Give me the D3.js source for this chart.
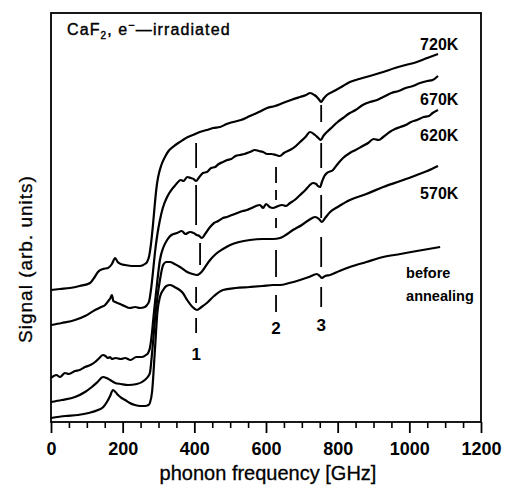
<!DOCTYPE html>
<html>
<head>
<meta charset="utf-8">
<script src="https://cdn.jsdelivr.net/npm/d3@7"></script>
<style>
  html, body { margin: 0; padding: 0; background: #fff; }
  svg { display: block; }
</style>
</head>
<body>
<svg id="chart" width="508" height="489"></svg>
<script>
// ---------- DATA (frequency in GHz, signal in arbitrary units) ----------
const freqTicks = [0, 200, 400, 600, 800, 1000, 1200];
const minorStep = 50;

const curve720 = [[0,132],[25,133],[53,134],[80,136],[109,139],[122,145],[131,150],[145,153],[159,154],[170,158],[179,164],[186,160],[195,158],[207,157],[225,156],[248,156],[262,158],[268,160],[274,166],[279,178],[284,195],[290,219],[295,236],[299,245],[308,257],[318,265],[328,271],[340,275],[355,279],[368,282],[382,285],[396,287],[415,290],[435,292],[452,294],[472,295],[490,298],[508,300],[530,302],[555,306],[580,310],[603,314],[625,316],[647,319],[670,322],[695,325],[712,327],[723,329],[735,327],[742,325],[749,322],[754,320],[760,323],[770,327],[790,331],[810,335],[834,340],[860,343],[890,346],[927,350],[960,354],[990,357],[1021,360],[1050,364],[1080,368]];

const curve670 = [[0,97],[30,99],[67,102],[95,106],[123,112],[140,115],[151,117],[160,121],[166,124],[170,127],[174,121],[179,120],[193,118],[205,116],[220,114],[235,115],[248,114],[262,115],[268,117],[274,121],[280,135],[286,155],[290,169],[297,188],[304,202],[312,214],[324,225],[336,232],[345,236],[352,239],[362,242],[370,241],[380,245],[390,244],[398,243],[405,241],[412,244],[424,249],[435,250],[447,254],[458,255],[468,258],[480,260],[492,262],[503,263],[515,266],[527,267],[540,268],[555,270],[569,272],[580,271],[592,270],[603,268],[615,268],[628,267],[639,266],[650,269],[667,272],[680,275],[695,280],[710,285],[723,290],[737,287],[746,284],[753,282],[760,286],[770,290],[785,295],[800,300],[815,304],[834,309],[850,312],[870,317],[890,320],[910,322],[927,325],[950,329],[970,331],[990,334],[1010,336],[1030,339],[1050,341],[1065,342],[1080,346]];

const curve620 = [[0,44],[15,47],[25,45],[39,49],[50,48],[67,51],[80,52],[95,55],[110,57],[123,60],[135,64],[145,67],[152,66],[159,64],[165,65],[170,63],[180,64],[195,63],[207,64],[222,62],[238,65],[254,65],[265,67],[271,69],[276,74],[282,90],[286,105],[290,119],[297,142],[304,162],[314,175],[324,182],[336,187],[352,189],[365,191],[375,188],[388,190],[398,189],[407,187],[414,186],[421,184],[430,188],[444,195],[455,199],[467,201],[480,204],[491,205],[505,207],[520,209],[535,211],[547,212],[560,214],[572,216],[583,217],[592,214],[600,218],[610,215],[620,214],[628,215],[634,216],[645,217],[656,216],[667,219],[680,222],[695,227],[710,232],[720,236],[731,239],[740,238],[745,236],[751,235],[756,240],[763,246],[770,249],[787,252],[800,258],[815,264],[834,269],[850,272],[870,276],[885,279],[900,283],[915,282],[927,285],[945,290],[960,293],[975,295],[990,297],[1005,300],[1021,302],[1040,305],[1055,306],[1065,309],[1080,312]];

const curve570 = [[0,20],[30,22],[67,25],[95,30],[114,35],[130,40],[145,45],[155,44],[165,42],[179,39],[195,38],[215,37],[240,38],[262,42],[270,45],[276,49],[281,65],[286,85],[290,102],[297,125],[304,142],[313,157],[322,160],[332,160],[345,158],[360,155],[380,150],[395,148],[407,147],[420,150],[432,156],[444,162],[460,168],[480,173],[500,177],[525,180],[555,182],[590,183],[620,183],[639,184],[655,187],[675,192],[700,197],[720,202],[737,205],[748,203],[756,200],[765,204],[779,210],[800,215],[834,222],[880,228],[927,235],[975,241],[1021,247],[1050,251],[1080,256]];

const curveBefore = [[0,4],[40,6],[75,7],[105,9],[131,12],[146,15],[156,20],[165,26],[173,32],[180,30],[187,27],[197,24],[207,22],[220,19],[234,17],[250,16],[262,16],[272,17],[276,19],[282,30],[290,72],[297,110],[304,125],[313,132],[322,136],[332,137],[345,135],[355,133],[368,129],[380,122],[395,115],[407,112],[420,115],[435,119],[455,126],[480,132],[515,134],[555,135],[590,136],[620,137],[639,137],[665,139],[695,142],[720,145],[742,148],[750,146],[756,144],[765,146],[779,147],[805,151],[834,155],[880,160],[927,165],[975,168],[1021,171],[1086,175]];

const seriesCurves = [curve720, curve670, curve620, curve570, curveBefore];

// curve labels: [text, freq, signal]
const curveLabels = [["720K",1030,378],["670K",1030,323],["620K",1030,287],["570K",1030,229]];
const beforeLabel = [["before",991,149],["annealing",991,126]];

// dashed marker segments: [freq, signalTop, signalBottom]
const markerSegments = [
  [405,279,254],[405,237,197],[416,179,157],[405,135,119],[405,104,89],
  [628,255,239],[628,232,222],[628,204,194],[628,172,145],[628,127,110],
  [754,317,300],[754,279,254],[754,227,204],[754,185,155],[754,135,115]
];
// marker labels: [text, freq, signal]
const markerLabels = [["1",405,68],["2",628,94],["3",754,97]];

// ---------- CHART ----------
const svg = d3.select("#chart");
const W = 508, H = 489;
const plot = {left: 51, right: 481, top: 13, bottom: 422};

svg.append("rect").attr("width", W).attr("height", H).attr("fill", "#fff");

const x = d3.scaleLinear().domain([0, 1200]).range([plot.left, plot.right]);
const y = d3.scaleLinear().domain([0, 409]).range([plot.bottom, plot.top]);

// minor ticks
const minorVals = d3.range(0, 1201, minorStep).filter(v => freqTicks.indexOf(v) < 0);
svg.append("g")
  .attr("transform", `translate(0,${plot.bottom})`)
  .call(d3.axisBottom(x).tickValues(minorVals).tickSize(6).tickFormat(""))
  .call(g => g.select(".domain").remove())
  .call(g => g.selectAll("line").attr("stroke", "#000").attr("stroke-width", 1.6));

// major ticks + labels
svg.append("g")
  .attr("transform", `translate(0,${plot.bottom})`)
  .call(d3.axisBottom(x).tickValues(freqTicks).tickSize(11).tickPadding(9).tickFormat(d3.format("d")))
  .call(g => g.select(".domain").remove())
  .call(g => g.selectAll("line").attr("stroke", "#000").attr("stroke-width", 1.8))
  .call(g => g.selectAll("text")
      .attr("fill", "#000")
      .style("font-family", "'Liberation Sans', Arial, sans-serif")
      .style("font-weight", "bold")
      .style("font-size", "18px"));

// frame
svg.append("rect")
  .attr("x", plot.left).attr("y", plot.top)
  .attr("width", plot.right - plot.left).attr("height", plot.bottom - plot.top)
  .attr("fill", "none").attr("stroke", "#000").attr("stroke-width", 1.8);

// curves
const line = d3.line().x(d => x(d[0])).y(d => y(d[1])).curve(d3.curveMonotoneX);
svg.append("g").selectAll("path")
  .data(seriesCurves)
  .join("path")
  .attr("d", line)
  .attr("fill", "none")
  .attr("stroke", "#000")
  .attr("stroke-width", 2.2)
  .attr("stroke-linejoin", "round");

// dashed markers
svg.append("g").selectAll("line")
  .data(markerSegments)
  .join("line")
  .attr("x1", d => x(d[0])).attr("x2", d => x(d[0]))
  .attr("y1", d => y(d[1])).attr("y2", d => y(d[2]))
  .attr("stroke", "#000").attr("stroke-width", 1.8);

const labelFont = "'Liberation Sans', Arial, sans-serif";

svg.append("g").selectAll("text")
  .data(markerLabels)
  .join("text")
  .attr("x", d => x(d[1])).attr("y", d => y(d[2]))
  .attr("text-anchor", "middle")
  .attr("dominant-baseline", "central")
  .style("font-family", labelFont).style("font-size", "17px").style("font-weight", "bold")
  .text(d => d[0]);

svg.append("g").selectAll("text")
  .data(curveLabels)
  .join("text")
  .attr("x", d => x(d[1])).attr("y", d => y(d[2]))
  .attr("dominant-baseline", "central")
  .style("font-family", labelFont).style("font-size", "16px").style("font-weight", "bold")
  .text(d => d[0]);

svg.append("g").selectAll("text")
  .data(beforeLabel)
  .join("text")
  .attr("x", d => x(d[1])).attr("y", d => y(d[2]))
  .attr("dominant-baseline", "central")
  .style("font-family", labelFont).style("font-size", "14.5px").style("font-weight", "bold")
  .text(d => d[0]);

// title in plot
const title = svg.append("text")
  .attr("x", 67).attr("y", 35)
  .attr("stroke", "#000").attr("stroke-width", 0.4)
  .style("font-family", labelFont).style("font-size", "16px").style("letter-spacing", "1.1px");
title.append("tspan").text("CaF");
title.append("tspan").attr("dy", 4).style("font-size", "10px").text("2");
title.append("tspan").attr("dy", -4).text(", e");
title.append("tspan").attr("dy", -6).style("font-size", "11px").text("\u2212");
title.append("tspan").attr("dy", 6).text("\u2014irradiated");

// axis titles
svg.append("text")
  .attr("x", 268).attr("y", 480)
  .attr("text-anchor", "middle")
  .attr("stroke", "#000").attr("stroke-width", 0.3)
  .style("font-family", labelFont).style("font-size", "20px")
  .text("phonon frequency [GHz]");

svg.append("text")
  .attr("transform", "translate(32,259) rotate(-90)")
  .attr("text-anchor", "middle")
  .attr("stroke", "#000").attr("stroke-width", 0.3)
  .style("font-family", labelFont).style("font-size", "19px").style("letter-spacing", "1px")
  .text("Signal (arb. units)");
</script>
</body>
</html>
